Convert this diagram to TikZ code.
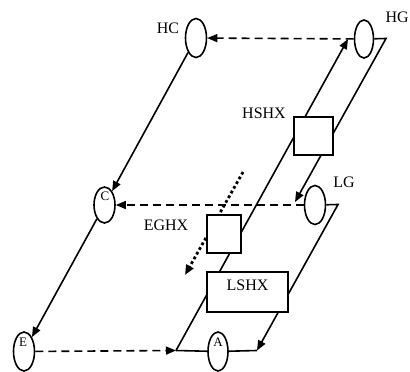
\documentclass[tikz,border=0pt]{standalone}
\usepackage{fontspec}
\setmainfont{Liberation Serif}
\usetikzlibrary{arrows.meta,shapes.geometric}

\begin{document}
\begin{tikzpicture}[x=1pt,y=-1pt,
  line width=1.6pt,
  tip/.style={-{Triangle[length=10pt,width=8pt]}},
  vessel/.style={draw,ellipse,fill=white,inner sep=0pt,minimum width=21pt,minimum height=39pt},
  hx/.style={draw,rectangle,fill=white,inner sep=0pt},
  ghost/.style={draw=none,fill=none},
  tag/.style={font=\fontsize{16}{16}\selectfont,inner sep=0pt},
  intag/.style={font=\fontsize{13}{13}\selectfont,inner sep=0pt},
  flow/.style={dash pattern=on 8pt off 5pt},
  signal/.style={line width=2.8pt,dash pattern=on 2.8pt off 2.6pt}
]
\useasboundingbox (0,0) rectangle (410,372);

% vessel and exchanger outlines (geometry only; painted after the pipes)
\node[vessel,ghost] (HC) at (196,38) {};
\node[vessel,ghost,minimum width=19pt,minimum height=38pt] (HG) at (364,39) {};
\node[vessel,ghost,minimum height=36pt] (C) at (104.5,205) {};
\node[vessel,ghost] (LG) at (315,205) {};
\node[vessel,ghost] (E) at (24,351.5) {};
\node[vessel,ghost,minimum width=20pt] (A) at (218,351.5) {};
\node[hx,ghost,minimum width=39pt,minimum height=38pt] (HSHX) at (313.5,136) {};
\node[hx,ghost,minimum width=34pt,minimum height=38pt] (EGHX) at (224,234) {};
\node[hx,ghost,minimum width=81pt,minimum height=40pt] (LSHX) at (247.5,292) {};

% corner points of the loops
\coordinate (BL) at (176,350.5);
\coordinate (BR) at (257,350.5);
\coordinate (HGin) at (348,39);
\coordinate (HGr) at (386,38.5);
\coordinate (LGin) at (295,202);
\coordinate (LGr) at (338,204.5);
\coordinate (sigS) at (243,172);
\coordinate (sigE) at (185,275);

% pipes
\draw[tip] (HC) -- (C);
\draw[tip] (C) -- (E);
\draw[tip,flow] (HG) -- (HC);
\draw[tip,flow] (LG) -- (C);
\draw[tip,flow] (E) -- (BL);
\draw (BL) -- (A) -- (BR);
\draw[tip] (BL) -- (HGin);
\draw[tip] (HG) -- (HGr) -- (LGin);
\draw[tip] (LG) -- (LGr) -- (BR);
\draw[tip,signal] (sigS) -- (sigE);

% painted vessels and exchangers
\node[vessel] (HCs) at (HC) {};
\node[vessel,minimum width=19pt,minimum height=38pt] (HGs) at (HG) {};
\node[vessel,minimum height=36pt] (Cs) at (C) {};
\node[vessel] (LGs) at (LG) {};
\node[vessel] (Es) at (E) {};
\node[vessel,minimum width=20pt] (As) at (A) {};
\node[hx,minimum width=39pt,minimum height=38pt] (HSHXs) at (HSHX) {};
\node[hx,minimum width=34pt,minimum height=38pt] (EGHXs) at (EGHX) {};
\node[hx,minimum width=81pt,minimum height=40pt] (LSHXs) at (LSHX) {};

\node[intag] (Ct) at (105,196) {C};
\node[intag] (Et) at (23,342) {E};
\node[intag] (At) at (218,342) {A};

% labels
\node[tag] (lHC) at (168,28) {HC};
\node[tag,anchor=east] (lHG) at (409.5,17) {HG};
\node[tag] (lHSHX) at (264,113) {HSHX};
\node[tag] (lLG) at (344,182) {LG};
\node[tag] (lEGHX) at (166,225) {EGHX};
\node[tag] (lLSHX) at (247.5,285) {LSHX};
\end{tikzpicture}
\end{document}
